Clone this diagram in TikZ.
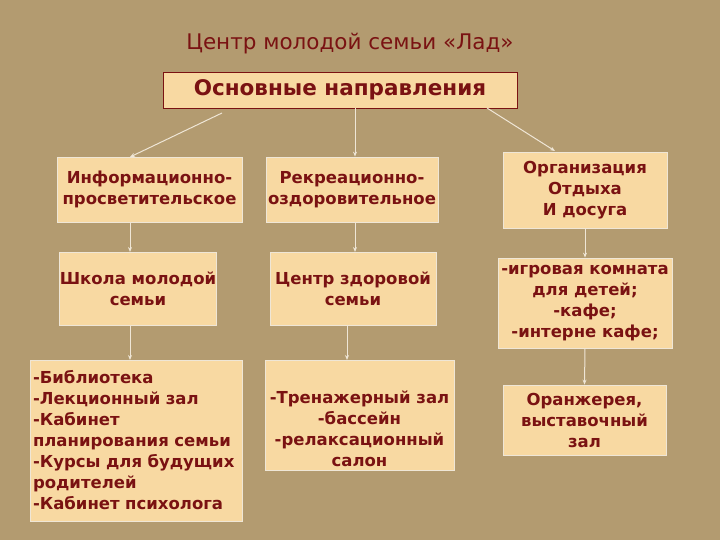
\documentclass[tikz,border=0pt]{standalone}
\usepackage{fontspec}
\setmainfont{DejaVu Sans}
\usetikzlibrary{arrows.meta}
\definecolor{bg}{HTML}{B39B70}
\definecolor{boxf}{HTML}{F8D9A2}
\definecolor{txt}{HTML}{7A1212}
\definecolor{edge}{HTML}{EFE6D6}
\tikzset{
 bx/.style={draw=edge,line width=0.8pt,fill=boxf,text=txt,font=\bfseries\fontsize{16.5}{21}\selectfont,align=center,inner sep=0pt},
 con/.style={draw=edge,line width=1pt,-{Stealth[length=5pt,width=4pt]}}
}
\begin{document}
\begin{tikzpicture}[x=1pt,y=-1pt]
\fill[bg] (0,0) rectangle (720,540);
\useasboundingbox (0,0) rectangle (720,540);
\node[text=txt,font=\fontsize{21.5}{24}\selectfont] (hd) at (350,44) {Центр молодой семьи «Лад»};
\node[bx,draw=txt,font=\bfseries\fontsize{21.5}{24}\selectfont,minimum width=354pt,minimum height=36pt] (t) at (340,90) {Основные направления};
\node[bx,minimum width=185pt,minimum height=65pt] (b1) at (149.5,189.5) {Информационно-\\просветительское};
\node[bx,minimum width=172pt,minimum height=65pt] (b2) at (352,189.5) {Рекреационно-\\оздоровительное};
\node[bx,minimum width=164pt,minimum height=76pt] (b3) at (585,190) {Организация\\Отдыха\\И досуга};
\node[bx,minimum width=156pt,minimum height=73pt] (b4) at (138,288.5) {Школа молодой\\семьи};
\node[bx,minimum width=166pt,minimum height=73pt] (b5) at (353,288.5) {Центр здоровой\\семьи};
\node[bx,minimum width=174pt,minimum height=90pt] (b6) at (585,303) {-игровая комната\\для детей;\\-кафе;\\-интерне кафе;};
\node[bx,minimum width=212pt,minimum height=161pt,align=left,text width=206pt] (b7) at (136,440.5) {-Библиотека\\-Лекционный зал\\-Кабинет\\планирования семьи\\-Курсы для будущих\\родителей\\-Кабинет психолога};
\node[bx,minimum width=189pt,minimum height=110pt] (b8) at (359.5,415) {};
\node[text=txt,font=\bfseries\fontsize{16.5}{21}\selectfont,align=center,anchor=north] (b8t) at (359.5,387) {-Тренажерный зал\\-бассейн\\-релаксационный\\салон};
\node[bx,minimum width=163pt,minimum height=70pt] (b9) at (584.5,420) {Оранжерея,\\выставочный\\зал};
\coordinate (tl) at (222,113);
\coordinate (tr) at (487,108);
\coordinate (tm) at (355,108);
\draw[con] (tl) -- (130,157);
\draw[con] (tm) -- (tm |- b2.north);
\draw[con] (tr) -- (555,151);
\draw[con] (130,222) -- (130,252);
\draw[con] (130,325) -- (130,360);
\draw[con] (355,222) -- (355,252);
\draw[con] (347,325) -- (347,360);
\draw[con] (b3.south) -- (b6.north);
\draw[con] (b6.south) -- (b9.north);
\end{tikzpicture}
\end{document}
